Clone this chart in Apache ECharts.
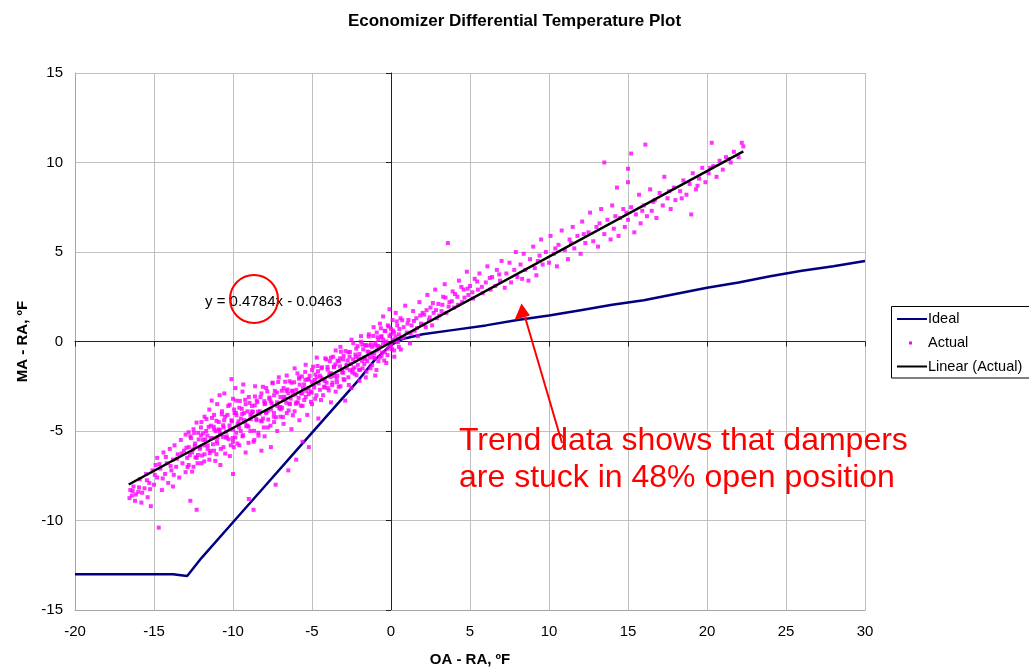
<!DOCTYPE html>
<html><head><meta charset="utf-8">
<script src="https://cdn.jsdelivr.net/npm/echarts@6/dist/echarts.min.js"></script>
<style>html,body{margin:0;padding:0;background:#fff}#c{width:1029px;height:672px}</style>
</head><body><div id="c"></div>
<script>
const titleText = 'Economizer Differential Temperature Plot';
const xName = 'OA - RA, \u00BAF';
const yName = 'MA - RA, \u00BAF';
const xRange = [-20, 30, 5];
const yRange = [-15, 15, 5];
const seriesNames = ['Ideal', 'Actual', 'Linear (Actual)'];
const equationText = 'y = 0.4784x - 0.0463';
const noteLines = ['Trend data shows that dampers', 'are stuck in 48% open position'];

const ideal = [[-20,-13],[-13.8,-13],[-13.7,-13.1],[-12.9,-13.1],[-12,-12.1],[-10,-10.1],[-8,-8.1],[-6,-6.1],[-4,-4.1],[-2,-2.1],[-1,-1],[0,-0.2],[0.6,0.1],[1,0.2],[2,0.4],[4,0.65],[6,0.9],[8,1.2],[10,1.45],[12,1.75],[14,2.05],[16,2.3],[18,2.65],[20,3.0],[22,3.3],[24,3.65],[26,3.95],[28,4.2],[30,4.5]];

const trend = [[-16.6,-7.99],[22.3,10.62]];

const actualA = [
[-16.5,-8.3],[-16.4,-8.6],[-16.3,-8.1],[-16.2,-8.9],[-16.0,-8.4],[-15.9,-7.7],[-15.8,-9.0],[-15.6,-8.2],[-15.5,-7.4],[-15.4,-8.7],[-15.3,-7.9],[-15.2,-9.2],[-15.1,-7.2],[-15.0,-8.0],[-14.9,-6.9],
[-14.8,-6.5],[-14.8,-7.6],[-14.7,-10.4],[-14.6,-7.1],[-14.5,-8.3],[-14.4,-6.2],[-14.3,-7.4],[-14.2,-6.8],[-14.1,-7.9],[-14.0,-6.0],[-13.9,-7.2],[-13.8,-6.6],[-13.8,-8.1],[-13.7,-5.8],[-13.6,-7.0],[-13.5,-6.3],[-13.4,-7.6],[-13.3,-5.5],[-13.2,-6.8],[-13.1,-6.1],[-13.0,-7.3],[-13.0,-5.2],[-12.9,-6.5],[-12.8,-5.9],[-12.7,-8.9],
[-12.8,-6.9],[-12.7,-5.3],[-12.6,-6.2],[-12.5,-4.9],[-12.5,-7.0],[-12.4,-5.7],[-12.3,-6.5],[-12.3,-9.4],[-12.2,-5.1],[-12.1,-6.0],[-12.0,-4.5],[-12.0,-6.8],[-11.9,-5.5],[-11.8,-4.2],[-11.8,-6.3],[-11.7,-5.0],[-11.6,-5.8],[-11.5,-3.8],[-11.5,-6.6],[-11.4,-4.7],[-11.3,-5.4],[-11.2,-4.1],[-11.2,-6.1],[-11.1,-5.0],[-11.0,-3.5],[-11.0,-5.7],[-10.9,-4.5],[-10.8,-5.2],[-10.8,-6.9],[-10.7,-3.9],[-10.6,-4.8],[-10.6,-5.9],[-10.5,-4.2],[-10.4,-5.3],[-10.1,-2.1],[-10.3,-3.6],[-10.2,-4.9],[-10.2,-6.4],[-10.1,-4.4],[-10.0,-5.6],[-10.0,-3.2],[-10.0,-7.4],
[-9.9,-4.0],[-9.8,-5.1],[-9.8,-3.3],[-9.7,-4.6],[-9.6,-5.8],[-9.6,-3.7],[-9.5,-4.3],[-9.4,-5.3],[-9.4,-2.8],[-9.3,-4.0],[-9.2,-6.2],[-9.2,-3.5],[-9.1,-4.7],[-9.0,-8.8],[-9.0,-3.1],[-8.9,-5.0],[-8.9,-4.1],[-8.8,-3.6],[-8.7,-5.6],[-8.7,-9.4],[-8.6,-2.5],[-8.5,-4.4],[-8.5,-3.3],[-8.4,-5.1],[-8.3,-3.9],[-8.2,-2.9],[-8.2,-6.1],[-8.1,-4.3],[-8.0,-3.5],[-8.0,-5.3],[-7.9,-2.6],[-7.9,-4.0],[-7.8,-4.8],[-7.7,-3.2],[-7.6,-5.9],[-7.6,-3.8],[-7.5,-2.3],[-7.4,-4.5],[-7.4,-3.0],[-7.3,-8.0],[-7.2,-3.6],[-7.2,-5.0],[-7.1,-2.0],[-7.0,-4.2],[-7.0,-3.1],
[-6.9,-3.7],[-6.8,-2.6],[-6.8,-4.6],[-6.7,-3.2],[-6.6,-1.9],[-6.6,-4.0],[-6.5,-7.2],[-6.5,-2.9],[-6.4,-3.5],[-6.3,-4.9],[-6.3,-2.3],[-6.2,-3.0],[-6.1,-1.5],[-6.1,-3.9],[-6.0,-6.6],[-6.0,-2.7],[-5.9,-3.4],[-5.8,-2.0],[-5.8,-4.4],[-5.7,-2.9],[-5.6,-5.6],[-5.6,-3.6],[-5.5,-2.4],[-5.4,-1.3],[-5.4,-3.1],[-5.3,-4.1],[-5.2,-2.1],[-5.2,-5.9],[-5.1,-2.8],[-5.0,-3.5],[-5.0,-1.6],[-4.9,-2.4],[-4.8,-3.2],[-4.7,-0.9],[-4.7,-2.0],[-4.6,-4.3],[-4.5,-2.7],[-4.4,-1.5],[-4.3,-3.0],[-4.2,-2.2],[-4.1,-1.0],[-4.0,-2.6],
[-3.9,-1.8],[-3.8,-3.4],[-3.8,-0.9],[-3.7,-2.3],[-3.6,-1.4],[-3.5,-2.8],[-3.5,-0.5],[-3.4,-1.9],[-3.3,-1.1],[-3.2,-2.5],[-3.2,-0.3],[-3.1,-1.6],[-3.0,-2.1],[-3.0,-0.8],[-2.9,-3.3],[-2.8,-1.3],[-2.7,-0.6],[-2.7,-2.0],[-2.6,-1.6],[-2.5,0.1],[-2.5,-2.6],[-2.4,-1.0],[-2.3,-1.8],[-2.2,-0.4],[-2.1,-1.3],[-2.0,-2.2],[-2.0,-0.7],[-1.9,0.3],[-1.8,-1.5],[-1.7,-0.9],[-1.6,-0.2],[-1.6,-2.0],[-1.5,-1.1],[-1.4,0.4],[-1.4,-0.6],[-1.3,-1.5],[-1.2,-0.3],[-1.1,-0.9],[-1.1,0.8],[-1.0,-1.9],[-1.0,-0.1],
[-0.9,-0.5],[-0.9,0.5],[-0.8,-1.1],[-0.8,0.1],[-0.7,-0.3],[-0.7,1.0],[-0.6,-0.8],[-0.6,0.3],[-0.5,-0.1],[-0.5,1.4],[-0.4,-0.6],[-0.4,0.6],[-0.3,0.0],[-0.3,-1.2],[-0.2,0.9],[-0.2,-0.4],[-0.1,0.3],[-0.1,1.8],[0.0,-0.2],[0.0,0.7],[0.1,0.1],[0.1,1.2],[0.2,-0.5],[0.2,0.5],[0.3,1.6],[0.3,0.0],[0.4,0.9],[0.5,-0.3],[0.5,0.4],[0.6,1.3],[0.7,0.2],[0.8,0.8],[0.9,2.0],[1.0,0.5],[1.1,1.2],[1.2,-0.1],[1.3,0.9],[1.4,1.7],[1.5,0.6],[1.6,1.3],[1.7,0.3],[1.8,2.2],[1.9,1.0],[2.0,1.6],
[2.1,1.5],[2.2,0.8],[2.3,2.6],[2.4,1.2],[2.5,1.9],[2.6,0.9],[2.7,1.6],[2.8,2.9],[2.9,1.3],[3.0,2.1],[3.2,1.7],[3.3,2.5],[3.4,3.2],[3.5,1.6],[3.6,5.5],[3.7,2.2],[3.9,2.8],[4.0,1.9],[4.2,2.5],[4.3,3.4],[4.5,2.2],[4.6,2.9],[4.8,3.9],[4.9,2.6],[5.0,3.1],[5.2,2.4],[5.3,3.5],[5.5,2.9],[5.6,3.8],[5.8,2.7],[6.0,3.3],[6.1,4.2],[6.3,2.9],[6.4,3.6],[6.6,3.1],[6.7,4.0],[6.9,3.4],[7.0,4.5],[7.2,3.0],[7.3,3.8],[7.5,4.4],[7.6,3.3],[7.8,4.0],[7.9,5.0],[8.0,3.6],
[8.2,4.3],[8.3,3.5],[8.4,4.9],[8.5,4.0],[8.7,3.4],[8.8,4.6],[9.0,5.3],[9.1,4.1],[9.2,3.7],[9.4,4.8],[9.5,5.7],[9.6,4.3],[9.8,5.0],[10.0,4.4],[10.1,5.9],[10.3,4.9],[10.5,4.2],[10.6,5.4],[10.8,6.2],[11.0,5.1],[11.2,4.6],[11.3,5.7],[11.5,6.4],[11.6,5.2],[11.8,5.9],[12.0,4.9],[12.1,6.7],[12.3,5.5],[12.5,6.1],[12.6,7.2],[12.8,5.6],[13.0,6.4],[13.1,5.3],[13.3,7.4],[13.5,10.0],[13.5,6.0],[13.7,6.8],[13.9,5.7],
[14.0,7.6],[14.1,6.3],[14.3,8.6],[14.4,5.9],[14.5,6.9],[14.7,7.4],[14.8,6.4],[15.0,8.9],[15.0,6.8],[15.0,9.65],[15.2,10.5],[15.2,7.5],[15.4,6.1],[15.5,7.1],[15.7,8.2],[15.8,6.6],[16.0,7.6],[16.1,11.0],[16.2,7.0],[16.4,8.5],[16.5,7.3],[16.7,7.9],[16.8,6.9],[17.0,8.3],[17.2,7.6],[17.3,9.2],[17.5,8.0],[17.7,7.4],[17.9,8.6],[18.0,7.9],[19.0,7.1],[18.3,8.4],[18.5,9.0],[18.7,8.2],[18.9,8.8],[19.1,9.4],[19.3,8.5],[19.5,9.1],[19.7,9.7],[19.9,8.9],[20.1,9.4],[20.3,11.1],[20.4,9.8],[20.6,9.2],[20.8,10.1],[21.0,9.6],[21.2,10.3],[21.5,10.0],[21.7,10.6],[22.0,10.3],[22.2,11.1],[22.3,10.9]
];

const actualB = [
[-12.95,-5.94],[-12.88,-7.01],[-12.81,-5.07],[-12.74,-6.34],[-12.66,-5.40],[-12.59,-7.27],[-12.52,-6.03],[-12.46,-5.11],[-12.38,-6.47],[-12.31,-4.53],[-12.24,-6.80],[-12.17,-5.47],[-12.09,-5.93],[-12.03,-4.80],[-11.96,-6.37],[-11.89,-5.13],[-11.82,-6.70],[-11.75,-5.47],[-11.68,-4.33],[-11.61,-6.00],[-11.54,-4.77],[-11.47,-6.23],[-11.41,-5.40],[-11.33,-4.27],[-11.27,-5.74],[-11.19,-4.90],[-11.12,-6.67],[-11.05,-4.43],[-10.98,-5.35],[-10.91,-4.92],
[-10.85,-4.94],[-10.77,-6.00],[-10.71,-4.07],[-10.63,-5.33],[-10.56,-4.40],[-10.49,-6.26],[-10.43,-5.04],[-10.35,-4.10],[-10.28,-5.46],[-10.21,-3.53],[-10.14,-5.80],[-10.07,-4.46],[-9.99,-4.93],[-9.93,-3.80],[-9.86,-5.36],[-9.78,-4.12],[-9.72,-5.70],[-9.65,-4.46],[-9.57,-3.32],[-9.51,-5.00],[-9.44,-3.76],[-9.37,-5.23],[-9.29,-4.39],[-9.23,-3.26],[-9.16,-4.73],[-9.09,-3.90],[-9.02,-5.66],[-8.95,-3.43],[-8.88,-4.34],[-8.81,-3.91],
[-8.74,-3.93],[-8.67,-4.99],[-8.61,-3.07],[-8.53,-4.33],[-8.46,-3.39],[-8.39,-5.26],[-8.32,-4.03],[-8.26,-3.10],[-8.18,-4.46],[-8.11,-2.53],[-8.05,-4.80],[-7.97,-3.46],[-7.91,-3.93],[-7.83,-2.79],[-7.77,-4.36],[-7.69,-3.13],[-7.63,-4.70],[-7.55,-3.46],[-7.49,-2.33],[-7.41,-3.99],[-7.35,-2.76],[-7.28,-4.23],[-7.21,-3.40],[-7.14,-2.26],[-7.07,-3.73]
];

const actualC = [
[-6.98,-3.79],[-6.91,-2.75],[-6.84,-4.22],[-6.77,-3.09],[-6.70,-2.25],[-6.63,-3.42],[-6.55,-2.68],[-6.48,-3.85],[-6.42,-2.22],[-6.35,-3.19],[-6.27,-2.75],[-6.21,-4.12],[-6.13,-2.28],[-6.06,-2.95],[-5.99,-3.41],[-5.92,-1.78],[-5.85,-3.15],[-5.78,-2.41],[-5.71,-3.58],[-5.64,-1.95],[-5.57,-2.61],[-5.49,-3.27],[-5.43,-1.70],[-5.36,-2.76],[-5.28,-2.12],
[-5.21,-2.94],[-5.15,-1.91],[-5.07,-3.37],[-5.01,-2.25],[-4.93,-1.41],[-4.86,-2.57],[-4.79,-1.84],[-4.72,-3.01],[-4.65,-1.37],[-4.58,-2.34],[-4.51,-1.91],[-4.43,-3.27],[-4.37,-1.44],[-4.30,-2.11],[-4.22,-2.57],[-4.16,-0.94],[-4.08,-2.30],[-4.01,-1.57],[-3.94,-2.73],[-3.87,-1.10],[-3.80,-1.77],[-3.73,-2.43],[-3.66,-0.85],[-3.59,-1.92],[-3.52,-1.28],
[-3.44,-2.09],[-3.38,-1.07],[-3.31,-2.53],[-3.23,-1.39],[-3.17,-0.57],[-3.09,-1.73],[-3.03,-1.00],[-2.95,-2.16],[-2.88,-0.53],[-2.81,-1.49],[-2.74,-1.06],[-2.67,-2.43],[-2.60,-0.59],[-2.53,-1.26],[-2.46,-1.73],[-2.39,-0.09],[-2.32,-1.46],[-2.25,-0.73],[-2.18,-1.89],[-2.11,-0.26],[-2.04,-0.93],[-1.97,-1.59],[-1.90,-0.01],[-1.83,-1.08],[-1.76,-0.44],
[-1.69,-1.26],[-1.62,-0.22],[-1.55,-1.69],[-1.48,-0.56],[-1.41,0.28],[-1.34,-0.89],[-1.27,-0.16],[-1.20,-1.32],[-1.13,0.31],[-1.06,-0.66],[-0.99,-0.22],[-0.92,-1.59],[-0.85,0.24],[-0.78,-0.42],[-0.71,-0.89],[-0.64,0.74],[-0.57,-0.62],[-0.50,0.11],[-0.43,-1.06],[-0.36,0.58],[-0.29,-0.09],[-0.22,-0.76],[-0.15,0.83],[-0.08,-0.24],[-0.01,0.40],
[0.06,-0.42],[0.13,0.61],[0.21,-0.85],[0.28,0.28],[0.36,1.12],[0.44,-0.04],[0.53,0.70],[0.62,-0.45],[0.71,1.19],[0.82,0.24]
];

const actualD = [
[-12.42,-5.84],[-12.22,-6.34],[-12.02,-5.25],[-11.82,-5.80],[-11.62,-5.25],[-11.42,-6.11],[-11.22,-4.76],[-11.02,-5.57],[-10.82,-5.17],[-10.62,-4.68],[-10.42,-5.38],[-10.22,-4.69],[-10.02,-5.39],[-9.82,-3.99],[-9.62,-4.80],[-9.42,-4.05],[-9.22,-4.51],[-9.02,-4.76],[-8.82,-4.07],[-8.62,-3.57],
[-8.42,-3.92],[-8.22,-4.43],[-8.02,-3.33],[-7.82,-3.89],[-7.62,-3.34],[-7.42,-4.20],[-7.22,-2.85],[-7.02,-3.66],[-6.82,-3.26],[-6.62,-2.76],[-6.42,-3.47],[-6.22,-2.77],[-6.02,-3.48],[-5.82,-2.08],[-5.62,-2.89],[-5.42,-2.14],[-5.22,-2.60],[-5.02,-2.85],[-4.82,-2.15],[-4.62,-1.66],
[-4.42,-2.01],[-4.22,-2.52],[-4.02,-1.42],[-3.82,-1.98],[-3.62,-1.43],[-3.42,-2.28],[-3.22,-0.94],[-3.02,-1.74],[-2.82,-1.35],[-2.62,-0.85],[-2.42,-1.56],[-2.22,-0.86],[-2.02,-1.57],[-1.82,-0.17],[-1.62,-0.97],[-1.42,-0.23],[-1.22,-0.68],[-1.02,-0.94],[-0.82,-0.24],[-0.62,0.25]
];

const actualE = [
[-16.55,-8.75],[-16.35,-8.35],[-16.15,-8.55],[-15.95,-8.15],[-15.75,-8.45],[-15.45,-7.75],[-15.25,-8.25],[-14.95,-7.45],[-14.65,-6.85],[-14.45,-7.65],[-14.25,-6.45],[-13.95,-6.95],[-13.75,-7.45],[-13.55,-6.55],[-13.25,-6.25],
[-11.35,-3.3],[-10.85,-3.0],[-10.55,-2.9],[-9.85,-2.6],[-9.35,-2.4],[-11.05,-6.3],[-9.95,-5.9],[-8.65,-5.5],
[1.05,1.0],[1.25,0.45],[1.45,1.15],[1.65,0.75],[1.85,1.45],[2.05,0.95],[2.25,1.75],[2.45,1.35],[2.65,2.15],[2.85,1.75],[3.05,1.45],[3.25,2.05],[3.45,2.45],[3.65,1.95],[3.85,2.25],[4.05,2.65],[4.25,2.05],[4.45,3.05],[4.65,2.45],[4.85,2.95],[5.15,2.75],[5.45,3.35],[5.75,3.05],[6.25,3.55],[6.85,3.75],
[9.3,4.5],[10.4,5.2],[11.4,5.5],[12.2,6.0],[13.2,6.6],[14.2,7.0],[14.9,7.2],[15.9,7.3],[16.6,7.8],[17.6,8.4],[18.4,8.0],[19.4,8.7],[20.2,9.7],[21.4,10.2]
];

const actual = [].concat(actualA, actualB, actualC, actualD, actualE);

const FONT = '"Liberation Sans", Arial, sans-serif';
const chart = echarts.init(document.getElementById('c'), null, {renderer: 'canvas'});

const valAxisBase = (r) => ({
  type: 'value', min: r[0], max: r[1], interval: r[2]
});

chart.setOption({
  backgroundColor: '#ffffff',
  animation: false,
  title: {
    text: titleText, left: 'center', top: 8,
    textStyle: {fontFamily: FONT, fontSize: 17, fontWeight: 'bold', color: '#000'}
  },
  grid: {left: 75, right: 164, top: 73, bottom: 60, containLabel: false},
  xAxis: [
    Object.assign(valAxisBase(xRange), {
      position: 'bottom',
      name: xName, nameLocation: 'middle', nameGap: 42,
      nameTextStyle: {fontFamily: FONT, fontSize: 15, fontWeight: 'bold', color: '#000'},
      axisLine: {show: true, onZero: false, lineStyle: {color: '#a6a6a6', width: 1}},
      axisTick: {show: false},
      axisLabel: {fontFamily: FONT, fontSize: 15, color: '#000', margin: 14},
      splitLine: {show: true, lineStyle: {color: '#c0c0c0', width: 1}}
    }),
    Object.assign(valAxisBase(xRange), {
      position: 'bottom',
      axisLine: {show: true, onZero: true, onZeroAxisIndex: 0, lineStyle: {color: '#222', width: 1}},
      axisTick: {show: true, length: 5, lineStyle: {color: '#222'}},
      axisLabel: {show: false},
      splitLine: {show: false}
    })
  ],
  yAxis: [
    Object.assign(valAxisBase(yRange), {
      position: 'left',
      name: yName, nameLocation: 'middle', nameGap: 44,
      nameTextStyle: {fontFamily: FONT, fontSize: 15, fontWeight: 'bold', color: '#000'},
      axisLine: {show: true, onZero: false, lineStyle: {color: '#a6a6a6', width: 1}},
      axisTick: {show: false},
      axisLabel: {fontFamily: FONT, fontSize: 15, color: '#000', margin: 12},
      splitLine: {show: true, lineStyle: {color: '#c0c0c0', width: 1}}
    }),
    Object.assign(valAxisBase(yRange), {
      position: 'left',
      axisLine: {show: true, onZero: true, onZeroAxisIndex: 0, lineStyle: {color: '#222', width: 1}},
      axisTick: {show: true, length: 5, lineStyle: {color: '#222'}},
      axisLabel: {show: false},
      splitLine: {show: false}
    })
  ],
  series: [
    {
      name: seriesNames[0], type: 'line', data: ideal, xAxisIndex: 0, yAxisIndex: 0,
      symbol: 'none', lineStyle: {color: '#000080', width: 2.5}, z: 3
    },
    {
      name: seriesNames[1], type: 'scatter', data: actual, xAxisIndex: 0, yAxisIndex: 0,
      symbol: 'rect', symbolSize: 4, itemStyle: {color: '#ff00ff'}, z: 4, large: false
    },
    {
      name: seriesNames[2], type: 'line', data: trend, xAxisIndex: 0, yAxisIndex: 0,
      symbol: 'none', lineStyle: {color: '#000000', width: 2.5}, z: 5
    }
  ],
  graphic: [
    {type: 'text', x: 205, y: 302, z: 10, style: {text: equationText, font: '15px ' + FONT, fill: '#000', verticalAlign: 'middle', align: 'left'}},
    {type: 'ellipse', z: 10, shape: {cx: 254, cy: 299, rx: 24, ry: 24}, style: {fill: 'none', stroke: '#ff0000', lineWidth: 2}},
    {type: 'line', z: 10, shape: {x1: 562, y1: 443, x2: 525, y2: 317}, style: {stroke: '#ff0000', lineWidth: 2}},
    {type: 'polygon', z: 10, shape: {points: [[521.5, 303.5], [514.5, 320], [530, 315.5]]}, style: {fill: '#ff0000'}},
    {type: 'text', x: 459, y: 441, z: 10, style: {text: noteLines[0], font: '32px ' + FONT, fill: '#ff0000', verticalAlign: 'middle', align: 'left'}},
    {type: 'text', x: 459, y: 478, z: 10, style: {text: noteLines[1], font: '32px ' + FONT, fill: '#ff0000', verticalAlign: 'middle', align: 'left'}},
    {type: 'rect', z: 10, shape: {x: 891.5, y: 306.5, width: 160, height: 71.5}, style: {fill: '#ffffff', stroke: '#000000', lineWidth: 1}},
    {type: 'line', z: 11, shape: {x1: 897, y1: 319, x2: 927, y2: 319}, style: {stroke: '#000080', lineWidth: 2}},
    {type: 'rect', z: 11, shape: {x: 909, y: 341.5, width: 3, height: 3}, style: {fill: '#ff00ff'}},
    {type: 'line', z: 11, shape: {x1: 897, y1: 366.5, x2: 927, y2: 366.5}, style: {stroke: '#000000', lineWidth: 2}},
    {type: 'text', x: 928, y: 319, z: 11, style: {text: seriesNames[0], font: '14.5px ' + FONT, fill: '#000', verticalAlign: 'middle'}},
    {type: 'text', x: 928, y: 343, z: 11, style: {text: seriesNames[1], font: '14.5px ' + FONT, fill: '#000', verticalAlign: 'middle'}},
    {type: 'text', x: 928, y: 367, z: 11, style: {text: seriesNames[2], font: '14.5px ' + FONT, fill: '#000', verticalAlign: 'middle'}}
  ]
});
</script>
</body></html>
